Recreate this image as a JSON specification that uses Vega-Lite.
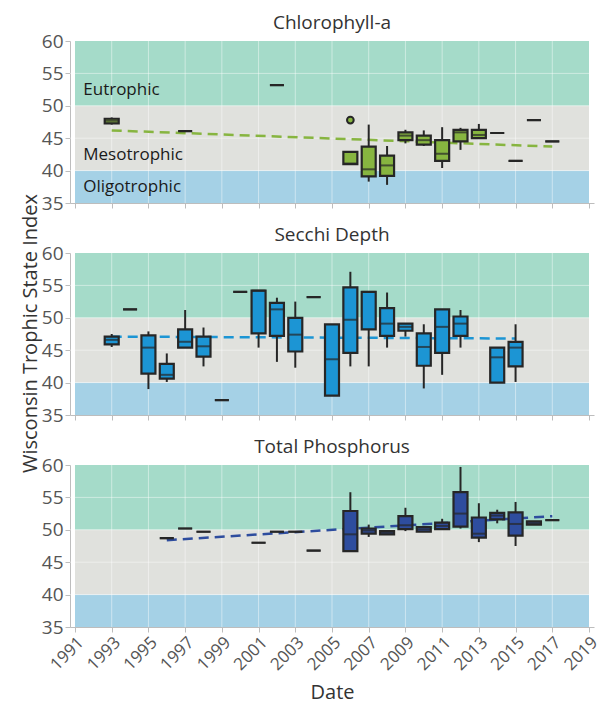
{
  "$schema": "https://vega.github.io/schema/vega-lite/v6.json",
  "padding": {"top": 14, "left": 20, "right": 5, "bottom": 5},
  "spacing": 50,
  "bounds": "flush",
  "datasets": {
    "bands": [
      {"zone": "Oligotrophic", "lo": 35, "hi": 40},
      {"zone": "Mesotrophic", "lo": 40, "hi": 50},
      {"zone": "Eutrophic", "lo": 50, "hi": 60}
    ],
    "xgrid": [{"year": 1993}, {"year": 1995}, {"year": 1997}, {"year": 1999}, {"year": 2001}, {"year": 2003}, {"year": 2005}, {"year": 2007}, {"year": 2009}, {"year": 2011}, {"year": 2013}, {"year": 2015}, {"year": 2017}],
    "ygrid": [{"v": 40}, {"v": 45}, {"v": 50}, {"v": 55}],
    "zonelabels": [
      {"text": "Eutrophic", "year": 1991.45, "v": 52.4},
      {"text": "Mesotrophic", "year": 1991.45, "v": 42.4},
      {"text": "Oligotrophic", "year": 1991.45, "v": 37.5}
    ],
    "outliers": [{"param": "C", "year": 2006, "v": 47.8}],
    "trend": [
      {"param": "C", "year": 1993, "tsi": 46.2},
      {"param": "C", "year": 2017, "tsi": 43.7},
      {"param": "S", "year": 1993, "tsi": 47.1},
      {"param": "S", "year": 2015, "tsi": 46.8},
      {"param": "P", "year": 1996, "tsi": 48.4},
      {"param": "P", "year": 2017, "tsi": 52.1}
    ],
    "stats": [
      {"param": "C", "year": 1993, "lo": 47.1, "q1": 47.3, "med": 47.7, "q3": 48.0, "hi": 48.2},
      {"param": "C", "year": 1997, "lo": 46.1, "q1": 46.1, "med": 46.1, "q3": 46.1, "hi": 46.1},
      {"param": "C", "year": 2002, "lo": 53.2, "q1": 53.2, "med": 53.2, "q3": 53.2, "hi": 53.2},
      {"param": "C", "year": 2006, "lo": 41.0, "q1": 41.0, "med": 41.1, "q3": 42.9, "hi": 42.9},
      {"param": "C", "year": 2007, "lo": 38.3, "q1": 39.1, "med": 40.2, "q3": 43.7, "hi": 47.1},
      {"param": "C", "year": 2008, "lo": 37.8, "q1": 39.2, "med": 40.8, "q3": 42.3, "hi": 43.8},
      {"param": "C", "year": 2009, "lo": 44.2, "q1": 44.7, "med": 45.4, "q3": 45.9, "hi": 46.3},
      {"param": "C", "year": 2010, "lo": 43.8, "q1": 44.0, "med": 44.7, "q3": 45.4, "hi": 46.2},
      {"param": "C", "year": 2011, "lo": 40.4, "q1": 41.5, "med": 42.6, "q3": 44.7, "hi": 46.7},
      {"param": "C", "year": 2012, "lo": 43.2, "q1": 44.5, "med": 45.9, "q3": 46.3, "hi": 46.6},
      {"param": "C", "year": 2013, "lo": 45.0, "q1": 45.0, "med": 45.5, "q3": 46.3, "hi": 47.2},
      {"param": "C", "year": 2014, "lo": 45.8, "q1": 45.8, "med": 45.8, "q3": 45.8, "hi": 45.8},
      {"param": "C", "year": 2015, "lo": 41.5, "q1": 41.5, "med": 41.5, "q3": 41.5, "hi": 41.5},
      {"param": "C", "year": 2016, "lo": 47.8, "q1": 47.8, "med": 47.8, "q3": 47.8, "hi": 47.8},
      {"param": "C", "year": 2017, "lo": 44.5, "q1": 44.5, "med": 44.5, "q3": 44.5, "hi": 44.5},
      {"param": "S", "year": 1993, "lo": 45.5, "q1": 45.9, "med": 46.6, "q3": 47.1, "hi": 47.5},
      {"param": "S", "year": 1994, "lo": 51.3, "q1": 51.3, "med": 51.3, "q3": 51.3, "hi": 51.3},
      {"param": "S", "year": 1995, "lo": 39.0, "q1": 41.4, "med": 45.4, "q3": 47.3, "hi": 47.9},
      {"param": "S", "year": 1996, "lo": 40.1, "q1": 40.6, "med": 41.2, "q3": 42.9, "hi": 44.5},
      {"param": "S", "year": 1997, "lo": 45.4, "q1": 45.4, "med": 46.3, "q3": 48.2, "hi": 51.2},
      {"param": "S", "year": 1998, "lo": 42.5, "q1": 44.0, "med": 45.6, "q3": 47.1, "hi": 48.5},
      {"param": "S", "year": 1999, "lo": 37.3, "q1": 37.3, "med": 37.3, "q3": 37.3, "hi": 37.3},
      {"param": "S", "year": 2000, "lo": 54.0, "q1": 54.0, "med": 54.0, "q3": 54.0, "hi": 54.0},
      {"param": "S", "year": 2001, "lo": 45.4, "q1": 47.6, "med": 54.2, "q3": 54.2, "hi": 54.2},
      {"param": "S", "year": 2002, "lo": 43.2, "q1": 47.2, "med": 51.3, "q3": 52.3, "hi": 53.1},
      {"param": "S", "year": 2003, "lo": 42.3, "q1": 44.8, "med": 47.4, "q3": 50.0, "hi": 52.5},
      {"param": "S", "year": 2004, "lo": 53.2, "q1": 53.2, "med": 53.2, "q3": 53.2, "hi": 53.2},
      {"param": "S", "year": 2005, "lo": 38.0, "q1": 38.0, "med": 43.6, "q3": 49.0, "hi": 49.0},
      {"param": "S", "year": 2006, "lo": 42.5, "q1": 44.6, "med": 49.7, "q3": 54.7, "hi": 57.1},
      {"param": "S", "year": 2007, "lo": 42.5, "q1": 48.2, "med": 54.0, "q3": 54.0, "hi": 54.0},
      {"param": "S", "year": 2008, "lo": 45.4, "q1": 47.2, "med": 49.1, "q3": 51.5, "hi": 53.9},
      {"param": "S", "year": 2009, "lo": 47.1, "q1": 48.0, "med": 48.6, "q3": 49.1, "hi": 49.1},
      {"param": "S", "year": 2010, "lo": 39.1, "q1": 42.6, "med": 45.5, "q3": 47.6, "hi": 49.0},
      {"param": "S", "year": 2011, "lo": 41.2, "q1": 44.6, "med": 48.6, "q3": 51.3, "hi": 51.3},
      {"param": "S", "year": 2012, "lo": 45.4, "q1": 47.2, "med": 49.1, "q3": 50.2, "hi": 51.2},
      {"param": "S", "year": 2014, "lo": 40.0, "q1": 40.0, "med": 43.9, "q3": 45.4, "hi": 45.4},
      {"param": "S", "year": 2015, "lo": 40.1, "q1": 42.5, "med": 45.4, "q3": 46.3, "hi": 49.0},
      {"param": "P", "year": 1996, "lo": 48.7, "q1": 48.7, "med": 48.7, "q3": 48.7, "hi": 48.7},
      {"param": "P", "year": 1997, "lo": 50.2, "q1": 50.2, "med": 50.2, "q3": 50.2, "hi": 50.2},
      {"param": "P", "year": 1998, "lo": 49.7, "q1": 49.7, "med": 49.7, "q3": 49.7, "hi": 49.7},
      {"param": "P", "year": 2001, "lo": 48.0, "q1": 48.0, "med": 48.0, "q3": 48.0, "hi": 48.0},
      {"param": "P", "year": 2002, "lo": 49.7, "q1": 49.7, "med": 49.7, "q3": 49.7, "hi": 49.7},
      {"param": "P", "year": 2003, "lo": 49.7, "q1": 49.7, "med": 49.7, "q3": 49.7, "hi": 49.7},
      {"param": "P", "year": 2004, "lo": 46.8, "q1": 46.8, "med": 46.8, "q3": 46.8, "hi": 46.8},
      {"param": "P", "year": 2006, "lo": 46.7, "q1": 46.7, "med": 49.3, "q3": 52.9, "hi": 55.8},
      {"param": "P", "year": 2007, "lo": 48.9, "q1": 49.4, "med": 49.9, "q3": 50.2, "hi": 50.8},
      {"param": "P", "year": 2008, "lo": 49.3, "q1": 49.3, "med": 49.6, "q3": 49.8, "hi": 49.8},
      {"param": "P", "year": 2009, "lo": 49.8, "q1": 50.1, "med": 50.7, "q3": 52.1, "hi": 53.4},
      {"param": "P", "year": 2010, "lo": 49.7, "q1": 49.7, "med": 50.05, "q3": 50.4, "hi": 50.5},
      {"param": "P", "year": 2011, "lo": 50.1, "q1": 50.1, "med": 50.6, "q3": 51.1, "hi": 51.7},
      {"param": "P", "year": 2012, "lo": 50.2, "q1": 50.5, "med": 52.5, "q3": 55.8, "hi": 59.7},
      {"param": "P", "year": 2013, "lo": 48.1, "q1": 48.8, "med": 49.4, "q3": 51.9, "hi": 54.1},
      {"param": "P", "year": 2014, "lo": 51.0, "q1": 51.6, "med": 52.2, "q3": 52.6, "hi": 53.1},
      {"param": "P", "year": 2015, "lo": 47.5, "q1": 49.1, "med": 50.9, "q3": 52.7, "hi": 54.3},
      {"param": "P", "year": 2016, "lo": 50.8, "q1": 50.8, "med": 51.0, "q3": 51.3, "hi": 51.3},
      {"param": "P", "year": 2017, "lo": 51.5, "q1": 51.5, "med": 51.5, "q3": 51.5, "hi": 51.5}
    ]
  },
  "vconcat": [
    {
      "width": 524, "height": 162,
      "title": {"text": "Chlorophyll-a"},
      "layer": [
        {"data": {"name": "bands"}, "mark": {"type": "rect"},
         "encoding": {
           "x": {"datum": 1991, "type": "quantitative", "scale": {"domain": [1991, 2019], "nice": false, "zero": false},
                 "axis": {"values": [1991,1993,1995,1997,1999,2001,2003,2005,2007,2009,2011,2013,2015,2017,2019], "tickCount": 40, "labels": false, "title": null}},
           "x2": {"datum": 2019},
           "y": {"field": "lo", "type": "quantitative", "scale": {"domain": [35, 60], "nice": false, "zero": false},
                 "axis": {"values": [35,40,45,50,55,60], "tickCount": 20, "title": "Wisconsin Trophic State Index", "titleY": 292, "titlePadding": 1, "titleFontSize": 20, "labelOverlap": false, "labelFlush": false}},
           "y2": {"field": "hi"},
           "color": {"field": "zone", "type": "nominal", "scale": {"domain": ["Eutrophic","Mesotrophic","Oligotrophic"], "range": ["#a5dbc9","#e0e1dd","#a5d1e6"]}, "legend": null}
         }},
        {"data": {"name": "xgrid"}, "mark": {"type": "rule", "color": "#ffffff", "opacity": 0.45, "strokeWidth": 1}, "encoding": {"x": {"field": "year", "type": "quantitative"}}},
        {"data": {"name": "ygrid"}, "mark": {"type": "rule", "color": "#ffffff", "opacity": 0.45, "strokeWidth": 1}, "encoding": {"y": {"field": "v", "type": "quantitative"}}},
        {"data": {"name": "zonelabels"}, "mark": {"type": "text", "align": "left", "baseline": "middle", "fontSize": 17, "color": "#1a1a1a"},
         "encoding": {"x": {"field": "year", "type": "quantitative"}, "y": {"field": "v", "type": "quantitative"}, "text": {"field": "text"}}},
        {"data": {"name": "trend"}, "transform": [{"filter": "datum.param === 'C'"}], "mark": {"type": "line", "color": "#87b540", "strokeWidth": 2.5, "strokeDash": [10, 6]},
         "encoding": {"x": {"field": "year", "type": "quantitative"}, "y": {"field": "tsi", "type": "quantitative"}}},
        {"data": {"name": "stats"}, "transform": [{"filter": "datum.param === 'C'"}], "mark": {"type": "rule", "color": "#262626", "strokeWidth": 2},
         "encoding": {"x": {"field": "year", "type": "quantitative"}, "y": {"field": "lo", "type": "quantitative"}, "y2": {"field": "hi"}}},
        {"data": {"name": "stats"}, "transform": [{"filter": "datum.param === 'C'"}], "mark": {"type": "bar", "width": 14, "fill": "#87b540", "stroke": "#262626", "strokeWidth": 2.2},
         "encoding": {"x": {"field": "year", "type": "quantitative"}, "y": {"field": "q1", "type": "quantitative"}, "y2": {"field": "q3"}}},
        {"data": {"name": "stats"}, "transform": [{"filter": "datum.param === 'C'"}], "mark": {"type": "tick", "orient": "horizontal", "size": 14, "thickness": 2, "color": "#262626"},
         "encoding": {"x": {"field": "year", "type": "quantitative"}, "y": {"field": "med", "type": "quantitative"}}},
        {"data": {"name": "outliers"}, "mark": {"type": "point", "filled": true, "fill": "#87b540", "stroke": "#262626", "strokeWidth": 2, "size": 45, "opacity": 1},
         "encoding": {"x": {"field": "year", "type": "quantitative"}, "y": {"field": "v", "type": "quantitative"}}}
      ]
    },
    {
      "width": 524, "height": 162,
      "title": {"text": "Secchi Depth"},
      "layer": [
        {"data": {"name": "bands"}, "mark": {"type": "rect"},
         "encoding": {
           "x": {"datum": 1991, "type": "quantitative", "scale": {"domain": [1991, 2019], "nice": false, "zero": false},
                 "axis": {"values": [1991,1993,1995,1997,1999,2001,2003,2005,2007,2009,2011,2013,2015,2017,2019], "tickCount": 40, "labels": false, "title": null}},
           "x2": {"datum": 2019},
           "y": {"field": "lo", "type": "quantitative", "scale": {"domain": [35, 60], "nice": false, "zero": false},
                 "axis": {"values": [35,40,45,50,55,60], "tickCount": 20, "title": null, "labelOverlap": false, "labelFlush": false}},
           "y2": {"field": "hi"},
           "color": {"field": "zone", "type": "nominal", "scale": {"domain": ["Eutrophic","Mesotrophic","Oligotrophic"], "range": ["#a5dbc9","#e0e1dd","#a5d1e6"]}, "legend": null}
         }},
        {"data": {"name": "xgrid"}, "mark": {"type": "rule", "color": "#ffffff", "opacity": 0.45, "strokeWidth": 1}, "encoding": {"x": {"field": "year", "type": "quantitative"}}},
        {"data": {"name": "ygrid"}, "mark": {"type": "rule", "color": "#ffffff", "opacity": 0.45, "strokeWidth": 1}, "encoding": {"y": {"field": "v", "type": "quantitative"}}},
        {"data": {"name": "trend"}, "transform": [{"filter": "datum.param === 'S'"}], "mark": {"type": "line", "color": "#1c95d4", "strokeWidth": 2.5, "strokeDash": [10, 6]},
         "encoding": {"x": {"field": "year", "type": "quantitative"}, "y": {"field": "tsi", "type": "quantitative"}}},
        {"data": {"name": "stats"}, "transform": [{"filter": "datum.param === 'S'"}], "mark": {"type": "rule", "color": "#262626", "strokeWidth": 2},
         "encoding": {"x": {"field": "year", "type": "quantitative"}, "y": {"field": "lo", "type": "quantitative"}, "y2": {"field": "hi"}}},
        {"data": {"name": "stats"}, "transform": [{"filter": "datum.param === 'S'"}], "mark": {"type": "bar", "width": 14, "fill": "#1c95d4", "stroke": "#262626", "strokeWidth": 2.2},
         "encoding": {"x": {"field": "year", "type": "quantitative"}, "y": {"field": "q1", "type": "quantitative"}, "y2": {"field": "q3"}}},
        {"data": {"name": "stats"}, "transform": [{"filter": "datum.param === 'S'"}], "mark": {"type": "tick", "orient": "horizontal", "size": 14, "thickness": 2, "color": "#262626"},
         "encoding": {"x": {"field": "year", "type": "quantitative"}, "y": {"field": "med", "type": "quantitative"}}}
      ]
    },
    {
      "width": 524, "height": 162,
      "title": {"text": "Total Phosphorus"},
      "layer": [
        {"data": {"name": "bands"}, "mark": {"type": "rect"},
         "encoding": {
           "x": {"datum": 1991, "type": "quantitative", "scale": {"domain": [1991, 2019], "nice": false, "zero": false},
                 "axis": {"values": [1991,1993,1995,1997,1999,2001,2003,2005,2007,2009,2011,2013,2015,2017,2019], "tickCount": 40, "format": "d", "labelAngle": -45, "labelDx": 7, "labelDy": 4, "title": "Date", "titleFontSize": 20, "labelFontSize": 17, "titlePadding": 10, "labelOverlap": false, "labelFlush": false}},
           "x2": {"datum": 2019},
           "y": {"field": "lo", "type": "quantitative", "scale": {"domain": [35, 60], "nice": false, "zero": false},
                 "axis": {"values": [35,40,45,50,55,60], "tickCount": 20, "title": null, "labelOverlap": false, "labelFlush": false}},
           "y2": {"field": "hi"},
           "color": {"field": "zone", "type": "nominal", "scale": {"domain": ["Eutrophic","Mesotrophic","Oligotrophic"], "range": ["#a5dbc9","#e0e1dd","#a5d1e6"]}, "legend": null}
         }},
        {"data": {"name": "xgrid"}, "mark": {"type": "rule", "color": "#ffffff", "opacity": 0.45, "strokeWidth": 1}, "encoding": {"x": {"field": "year", "type": "quantitative"}}},
        {"data": {"name": "ygrid"}, "mark": {"type": "rule", "color": "#ffffff", "opacity": 0.45, "strokeWidth": 1}, "encoding": {"y": {"field": "v", "type": "quantitative"}}},
        {"data": {"name": "trend"}, "transform": [{"filter": "datum.param === 'P'"}], "mark": {"type": "line", "color": "#2e4d9e", "strokeWidth": 2.5, "strokeDash": [10, 6]},
         "encoding": {"x": {"field": "year", "type": "quantitative"}, "y": {"field": "tsi", "type": "quantitative"}}},
        {"data": {"name": "stats"}, "transform": [{"filter": "datum.param === 'P'"}], "mark": {"type": "rule", "color": "#262626", "strokeWidth": 2},
         "encoding": {"x": {"field": "year", "type": "quantitative"}, "y": {"field": "lo", "type": "quantitative"}, "y2": {"field": "hi"}}},
        {"data": {"name": "stats"}, "transform": [{"filter": "datum.param === 'P'"}], "mark": {"type": "bar", "width": 14, "fill": "#2e4d9e", "stroke": "#262626", "strokeWidth": 2.2},
         "encoding": {"x": {"field": "year", "type": "quantitative"}, "y": {"field": "q1", "type": "quantitative"}, "y2": {"field": "q3"}}},
        {"data": {"name": "stats"}, "transform": [{"filter": "datum.param === 'P'"}], "mark": {"type": "tick", "orient": "horizontal", "size": 14, "thickness": 2, "color": "#262626"},
         "encoding": {"x": {"field": "year", "type": "quantitative"}, "y": {"field": "med", "type": "quantitative"}}}
      ]
    }
  ],
  "config": {
    "font": "Open Sans",
    "view": {"stroke": null},
    "axis": {"grid": false, "domainColor": "#bdbdbd", "tickColor": "#bdbdbd", "labelColor": "#555555", "labelFontSize": 19, "labelOverlap": false, "titleFontSize": 19, "titleColor": "#333333", "titleFontWeight": "normal", "labelPadding": 2},
    "title": {"fontSize": 19, "fontWeight": "normal", "color": "#333333", "offset": -1}
  }
}
